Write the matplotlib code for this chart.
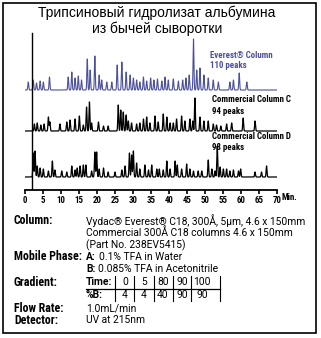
import numpy as np
import matplotlib
matplotlib.use("Agg")
import matplotlib.pyplot as plt
from matplotlib.lines import Line2D
from matplotlib.patches import Rectangle
from matplotlib import font_manager

# ---------------- data ----------------
title_lines = ["Трипсиновый гидролизат альбумина", "из бычей сыворотки"]

times_E = [0.9, 2.3, 3.2, 4.2, 5.1, 6.8, 12.0, 13.0, 13.9, 14.8, 15.7, 17.3, 18.1, 19.4, 20.6, 21.3, 22.7, 24.1,
           25.6, 26.9, 28.1, 29.2, 30.1, 31.0, 31.9, 32.9, 33.8, 34.9, 35.8, 36.8, 38.0, 38.9, 39.8, 41.2, 42.6,
           43.8, 44.7, 45.6, 46.8, 47.7, 48.6, 49.7, 50.9, 52.3, 53.7, 56.9, 57.9, 59.5, 61.6]
heights_E = [8, 10, 7, 9, 8, 13, 13, 18, 12, 14, 10, 31, 20, 34, 15, 10, 8, 8,
             25, 28, 18, 15, 12, 10, 8, 13, 9, 12, 10, 11, 9, 13, 10, 11, 9,
             10, 12, 15, 51, 20, 22, 15, 12, 10, 8, 8, 10, 17, 8]

times_C = [2.6, 3.4, 4.4, 5.3, 6.5, 6.9, 9.7, 11.6, 12.5, 13.9, 15.1, 16.2, 17.1, 17.9, 18.5, 20.4, 21.8, 23.1,
           25.9, 26.6, 27.3, 28.1, 28.7, 29.6, 31.0, 31.9, 32.9, 33.8, 34.7, 36.1, 37.0, 38.4, 39.4, 40.3, 41.2,
           42.1, 43.5, 44.4, 45.8, 46.6, 47.2, 48.6, 49.7, 50.9, 52.3, 53.2, 54.4, 56.0, 57.4, 60.6, 63.9]
heights_C = [7, 8, 6, 7, 14, 9, 7, 9, 11, 12, 15, 6, 24, 29, 8, 9, 5, 5,
             26, 21, 19, 16, 10, 8, 7, 8, 12, 14, 8, 15, 9, 17, 14, 8, 8,
             12, 15, 10, 12, 10, 33, 14, 10, 10, 7, 6, 5, 7, 8, 13, 10]

times_D = [2.3, 2.8, 3.4, 4.2, 5.1, 6.5, 7.6, 8.3, 10.2, 11.6, 13.0, 13.9, 14.5, 15.3, 16.2, 16.9, 18.5, 19.4,
           19.9, 20.6, 21.8, 23.1, 25.0, 26.9, 27.8, 29.0, 29.6, 30.1, 31.0, 31.9, 33.3, 34.3, 35.2, 36.6, 37.3,
           38.4, 39.4, 40.3, 41.7, 42.3, 43.5, 44.9, 45.8, 46.8, 48.1, 49.1, 50.9, 51.9, 52.8, 53.4, 54.2, 55.1,
           56.0, 56.9, 57.9, 59.3, 59.9, 63.9, 65.7, 67.1]
heights_D = [24, 26, 11, 9, 8, 6, 16, 7, 6, 5, 11, 7, 9, 11, 12, 12, 6, 25,
             25, 8, 9, 5, 5, 7, 11, 24, 22, 26, 14, 8, 12, 7, 12, 8, 8,
             7, 16, 8, 16, 12, 8, 13, 8, 6, 6, 6, 17, 8, 6, 31, 10, 8,
             8, 6, 7, 6, 8, 5, 5, 11]

trace_labels = [("Everest® Column", "110 peaks"),
                ("Commercial Column C", "94 peaks"),
                ("Commercial Column D", "98 peaks")]
x_ticks = [0, 5, 10, 15, 20, 25, 30, 35, 40, 45, 50, 55, 60, 65, 70]
x_unit = "Min."
injection_time = 1.85

info_labels = ["Column:", "Mobile Phase:", "Gradient:", "Flow Rate:", "Detector:"]
column_lines = ["Vydac® Everest® C18, 300Å, 5µm, 4.6 x 150mm",
                "Commercial 300Å C18 columns 4.6 x 150mm",
                "(Part No. 238EV5415)"]
phase_heads = ["A:", "B:"]
phase_texts = ["0.1% TFA in Water", "0.085% TFA in Acetonitrile"]
grad_time = ["0", "5", "80", "90", "100"]
grad_b = ["4", "4", "40", "90", "90"]
flow_rate = "1.0mL/min"
detector = "UV at 215nm"

# ---------------- fonts ----------------
names = {f.name for f in font_manager.fontManager.ttflist}
cond = None
for cand in ["Liberation Sans Narrow", "Roboto Condensed", "Open Sans Condensed", "Arial Narrow"]:
    if cand in names:
        cond = cand
        break
NARROW = [cond, "DejaVu Sans"] if cond else ["Liberation Sans", "DejaVu Sans"]
NARROW_SCALE = 1.0 if cond else 0.88
SANS = ["Liberation Sans", "DejaVu Sans"]
BODY = ["Roboto", "Liberation Sans", "DejaVu Sans"] if "Roboto" in names else SANS

# ---------------- figure ----------------
W, H = 321, 338
fig = plt.figure(figsize=(W / 100, H / 100), dpi=100)

def fx(px):
    return px / W

def fy(py):
    return 1 - py / H

BLUE = "#4b509c"

fig.patches.append(Rectangle((fx(3), fy(333)), fx(313), 330 / H, transform=fig.transFigure,
                             fill=False, ec="black", lw=1.2))

fig.text(fx(157), fy(13), title_lines[0], ha="center", va="center", fontsize=10, family=SANS)
fig.text(fx(157), fy(29), title_lines[1], ha="center", va="center", fontsize=10, family=SANS)

ax = fig.add_axes([fx(25), fy(190), (277 - 25) / W, 160 / H])
ax.set_xlim(0, 70)
ax.set_ylim(0, 160)

t = np.linspace(0, 70, 7001)
sigma = 0.12

def trace(times, heights, base):
    y = np.full_like(t, base, dtype=float)
    for tc, h in zip(times, heights):
        y += h * np.exp(-0.5 * ((t - tc) / sigma) ** 2)
    return y

baselines = [100, 59, 13]
ax.plot(t, trace(times_E, heights_E, baselines[0]), color=BLUE, lw=0.8)
ax.plot(t, trace(times_C, heights_C, baselines[1]), color="black", lw=0.9)
ax.plot(t, trace(times_D, heights_D, baselines[2]), color="black", lw=0.9)
ax.plot([injection_time, injection_time], [0, 157], color="black", lw=1.0)

for s in ["top", "right", "left"]:
    ax.spines[s].set_visible(False)
ax.spines["bottom"].set_linewidth(1.3)
ax.set_yticks([])
ax.set_xticks(x_ticks)
ax.tick_params(axis="x", direction="out", length=3, width=1.2, pad=1.5)
TFS = 6.4 * NARROW_SCALE
ax.set_xticklabels([str(v) for v in x_ticks], fontsize=TFS, fontweight="bold", family=NARROW)
fig.text(fx(281), fy(198), x_unit, fontsize=TFS, fontweight="bold", family=NARROW, ha="left", va="center")

LFS = 6.4 * NARROW_SCALE
lab_pos = [(210, 55, 66, BLUE), (212, 100, 112, "black"), (212, 136, 147, "black")]
for (l1, l2), (px, py1, py2, c) in zip(trace_labels, lab_pos):
    fig.text(fx(px), fy(py1), l1, color=c, fontsize=LFS, fontweight="bold", family=NARROW,
             ha="left", va="center")
    fig.text(fx(px), fy(py2), l2, color=c, fontsize=LFS, fontweight="bold", family=NARROW,
             ha="left", va="center")

LX, VX = 14, 86
BFS, VFS = 8.6 * NARROW_SCALE, 7.4
label_y = [221, 257, 282, 308, 320]
for lab, py in zip(info_labels, label_y):
    fig.text(fx(LX), fy(py), lab, fontsize=BFS, fontweight="bold", family=NARROW, ha="left", va="center")

for i, line in enumerate(column_lines):
    fig.text(fx(VX), fy(221 + 12 * i), line, fontsize=VFS, family=BODY, ha="left", va="center")

renderer = fig.canvas.get_renderer()
for i, (head, rest) in enumerate(zip(phase_heads, phase_texts)):
    th = fig.text(fx(VX), fy(257 + 12 * i), head, fontsize=VFS,
                  fontweight="bold", family=BODY, ha="left", va="center")
    bb = th.get_window_extent(renderer)
    fig.text(bb.x1 / W + fx(3), fy(257 + 12 * i), rest, fontsize=VFS, family=BODY, ha="left", va="center")

row_y = [282, 295]
fig.text(fx(VX), fy(row_y[0]), "Time:", fontsize=VFS, fontweight="bold", family=BODY,
         ha="left", va="center")
fig.text(fx(VX), fy(row_y[1]), "%B:", fontsize=VFS, fontweight="bold", family=BODY,
         ha="left", va="center")
col_x = [125, 144, 163, 182, 202]
sep_x = [115, 134, 154, 173, 191, 220]
for cx, tv, bv in zip(col_x, grad_time, grad_b):
    fig.text(fx(cx), fy(row_y[0]), tv, fontsize=VFS, family=BODY, ha="center", va="center")
    fig.text(fx(cx), fy(row_y[1]), bv, fontsize=VFS, family=BODY, ha="center", va="center")
for sx in sep_x:
    fig.lines.append(Line2D([fx(sx), fx(sx)], [fy(276), fy(301)], transform=fig.transFigure,
                            color="black", lw=0.8))
fig.lines.append(Line2D([fx(86), fx(220)], [fy(288.5), fy(288.5)], transform=fig.transFigure,
                        color="black", lw=0.9))

fig.text(fx(VX), fy(308), flow_rate, fontsize=VFS, family=BODY, ha="left", va="center")
fig.text(fx(VX), fy(320), detector, fontsize=VFS, family=BODY, ha="left", va="center")

fig.savefig("out.png", dpi=100, facecolor="white")
